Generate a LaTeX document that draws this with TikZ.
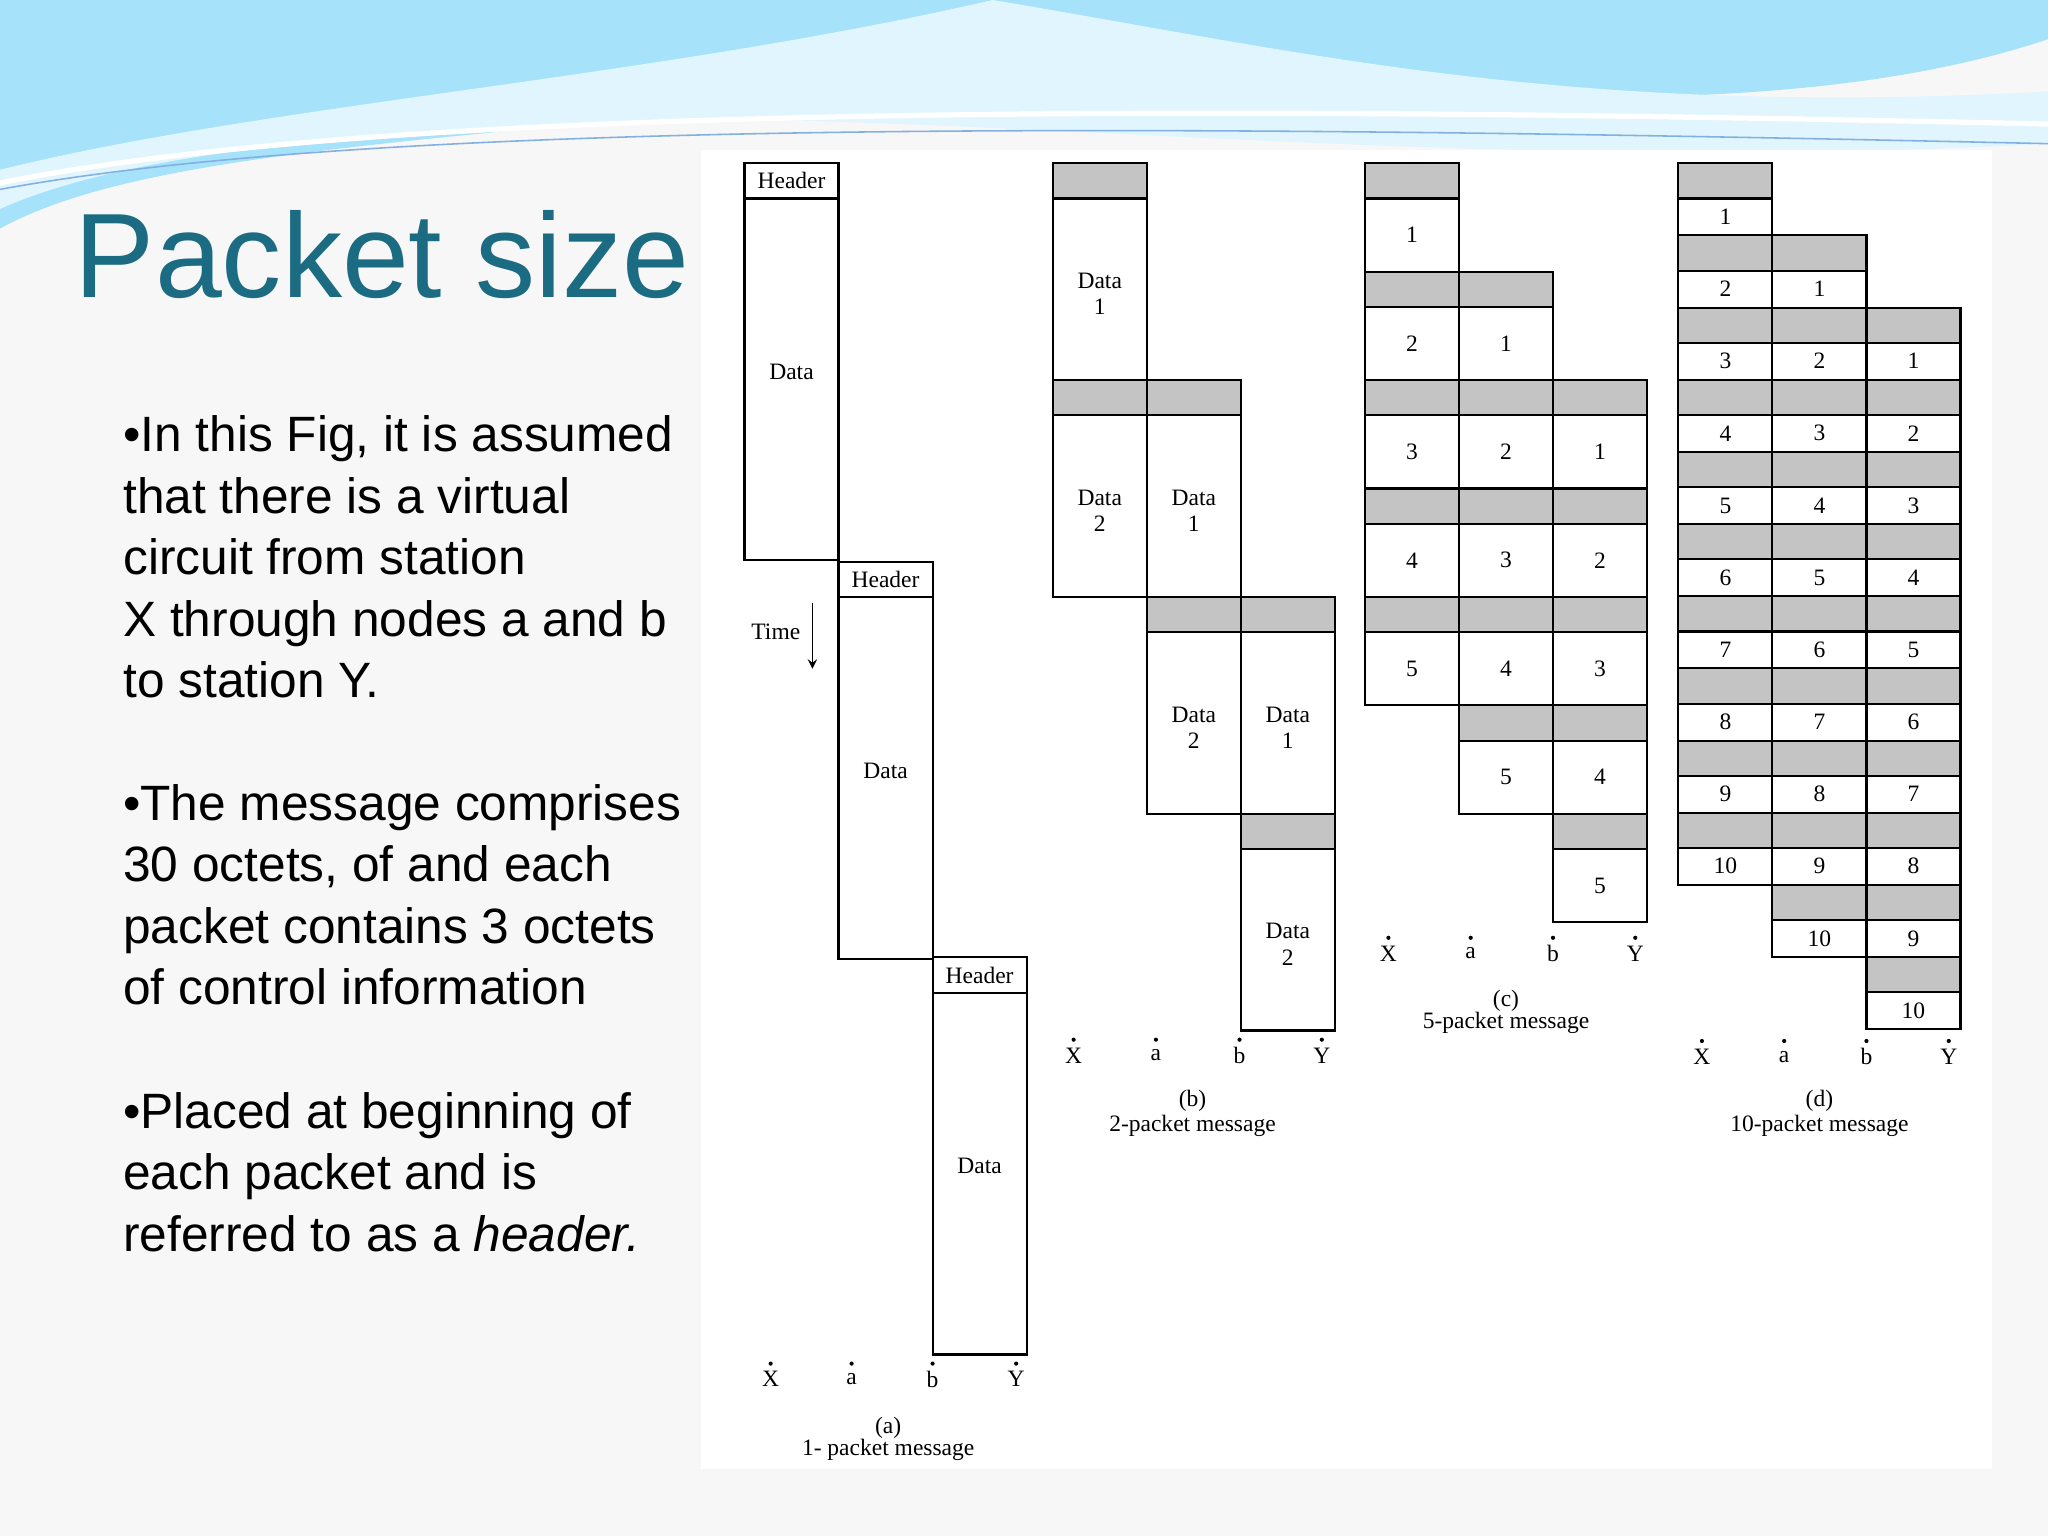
\documentclass[tikz,border=0pt]{standalone}
\usepackage{fontspec}
\setmainfont{Liberation Sans}
\newfontfamily\serf{Liberation Serif}
\definecolor{titlec}{HTML}{1B6B82}
\definecolor{shd}{HTML}{C4C4C4}
\begin{document}
\begin{tikzpicture}[x=0.5pt,y=-0.5pt,
  box/.style={draw=black,line width=0.8pt},
  hbox/.style={draw=black,line width=0.8pt,fill=shd},
  lab/.style={font=\serf\fontsize{9}{10}\selectfont,align=center,inner sep=0pt},
  bul/.style={font=\fontsize{19}{23.5}\selectfont,anchor=base west,inner sep=0pt}]
\useasboundingbox (0,0) rectangle (1568,1176);
\fill[gray!6] (0,0) rectangle (1568,1176);
% top wave
\fill[cyan!35] (0,0) -- (1568,0) -- (1568,30) .. controls (1300,120) and (900,40) .. (600,80) .. controls (300,110) and (100,120) .. (0,175) -- cycle;
\fill[cyan!12!white] (0,130) .. controls (200,80) and (500,60) .. (760,0) .. controls (1000,40) and (1200,90) .. (1568,70) -- (1568,110) .. controls (1200,130) and (900,100) .. (600,92) .. controls (300,95) and (100,115) .. (0,160) -- cycle;
\draw[white,line width=2pt] (0,140) .. controls (300,80) and (900,80) .. (1568,95);
\draw[cyan!60!blue!50,line width=0.6pt] (0,145) .. controls (300,90) and (900,95) .. (1568,110);
\fill[white] (537,115) rectangle (1525,1125);
% title & text
\node[anchor=base west,inner sep=0pt,text=titlec,font=\fontsize{46}{46}\selectfont] (title) at (57,228) {Packet size};
\node[bul] (t1) at (94,346) {•In this Fig, it is assumed};
\node[bul] (t2) at (94,393) {that there is a virtual};
\node[bul] (t3) at (94,440) {circuit from station};
\node[bul] (t4) at (94,487) {X through nodes a and b};
\node[bul] (t5) at (94,534) {to station Y.};
\node[bul] (t6) at (94,628) {•The message comprises};
\node[bul] (t7) at (94,675) {30 octets, of and each};
\node[bul] (t8) at (94,722) {packet contains 3 octets};
\node[bul] (t9) at (94,769) {of control information};
\node[bul] (t10) at (94,864) {•Placed at beginning of};
\node[bul] (t11) at (94,911) {each packet and is};
\node[bul] (t12) at (94,958) {referred to as a \textit{header.}};
% (a)
\foreach \c/\yt in {0/125,1/430,2/733}{
  \pgfmathsetmacro\xl{570+72*\c}
  \draw[box] (\xl,\yt) rectangle ++(72,27);
  \draw[box] (\xl,\yt+27) rectangle ++(72,277);
  \node[lab] at (\xl+36,\yt+13.5) {Header};
  \node[lab] at (\xl+36,\yt+160) {Data};
}
\node[lab] (time) at (594,484) {Time};
\draw[-stealth,line width=0.6pt] (622,462) -- (622,512);
\foreach \n/\xx in {X/590,a/652,b/714,Y/778}{
  \node[lab] at (\xx,1056) {\n}; \fill (\xx,1044) circle (1.6);}
\node[lab] at (680,1093) {(a)};
\node[lab] at (680,1110) {1- packet message};
% (b)
\foreach \i in {1,2}{\foreach \c in {0,1,2}{
  \pgfmathsetmacro\xl{806+72*\c}
  \pgfmathsetmacro\yt{125+166*(\i-1+\c)}
  \draw[hbox] (\xl,\yt) rectangle ++(72,27);
  \draw[box] (\xl,\yt+27) rectangle ++(72,139);
  \node[lab] at (\xl+36,\yt+100) {Data\\\i};
}}
\foreach \n/\xx in {X/822,a/885,b/949,Y/1012}{
  \node[lab] at (\xx,808) {\n}; \fill (\xx,796) circle (1.6);}
\node[lab] at (913,843) {(b)};
\node[lab] at (913,862) {2-packet message};
% (c)
\foreach \i in {1,...,5}{\foreach \c in {0,1,2}{
  \pgfmathsetmacro\xl{1045+72*\c}
  \pgfmathsetmacro\yt{125+83*(\i-1+\c)}
  \draw[hbox] (\xl,\yt) rectangle ++(72,27);
  \draw[box] (\xl,\yt+27) rectangle ++(72,56);
  \node[lab] at (\xl+36,\yt+55) {\i};
}}
\foreach \n/\xx in {X/1063,a/1126,b/1189,Y/1252}{
  \node[lab] at (\xx,730) {\n}; \fill (\xx,718) circle (1.6);}
\node[lab] at (1153,766) {(c)};
\node[lab] at (1153,783) {5-packet message};
% (d)
\foreach \i in {1,...,10}{\foreach \c in {0,1,2}{
  \pgfmathsetmacro\xl{1285+72*\c}
  \pgfmathsetmacro\yt{125+55.25*(\i-1+\c)}
  \draw[hbox] (\xl,\yt) rectangle ++(72,27);
  \draw[box] (\xl,\yt+27) rectangle ++(72,28.25);
  \node[lab] at (\xl+36,\yt+41) {\i};
}}
\foreach \n/\xx in {X/1303,a/1366,b/1429,Y/1492}{
  \node[lab] at (\xx,809) {\n}; \fill (\xx,797) circle (1.6);}
\node[lab] at (1393,843) {(d)};
\node[lab] at (1393,862) {10-packet message};
\end{tikzpicture}
\end{document}
